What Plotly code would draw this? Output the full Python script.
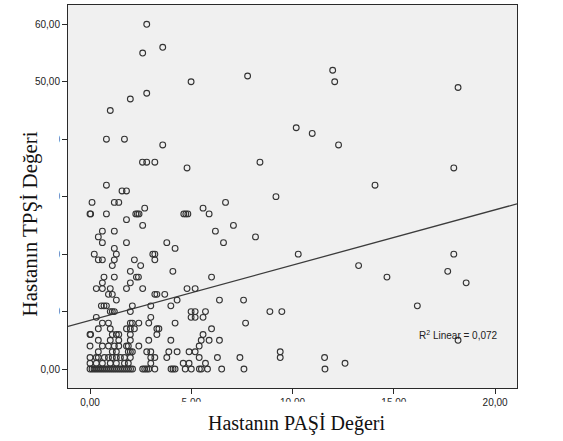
import plotly.graph_objects as go

# ---- data ----
pasi_values = [
    2.80, 3.59, 2.60, 11.98, 7.78, 4.99, 12.08, 18.17, 2.80, 1.99, 1.00,
    10.18, 10.97, 0.81, 1.70, 3.59, 12.27, 2.59, 2.80, 3.20, 8.39, 4.79, 17.96,
    0.81, 14.07, 1.58, 1.80, 9.18, 0.10, 1.20, 1.42, 6.69, 2.70, 5.58,
    0.00, 0.03, 0.81, 2.26, 2.34, 2.42, 4.63, 4.73, 4.83, 5.88,
    1.80, 2.60, 7.08, 0.61, 1.20, 6.19, 0.41, 8.17, 0.61, 1.80, 3.79, 6.59,
    1.20, 4.20, 0.21, 1.30, 3.10, 3.20, 10.28, 17.96,
    0.41, 0.61, 1.20, 2.19, 3.20, 1.10, 2.50, 13.26, 1.99, 4.09, 17.66,
    0.69, 1.20, 2.29, 2.39, 6.00, 14.66, 0.61, 1.99, 18.57,
    0.31, 0.61, 1.00, 1.80, 2.60, 4.79, 5.19,
    0.91, 1.10, 3.20, 3.30, 3.69, 1.30, 4.30, 6.39, 7.58,
    0.56, 0.69, 0.81, 2.09, 3.00, 3.99, 16.16,
    1.00, 1.10, 1.20, 1.99, 4.99, 5.19, 5.70, 8.88, 9.47,
    0.31, 3.00, 4.99, 5.19, 5.58,
    0.61, 0.91, 1.99, 2.09, 2.41, 2.90, 4.20, 7.68,
    0.41, 1.00, 1.80, 1.99, 2.19, 3.30, 3.40, 6.00,
    0.00, 0.03, 1.10, 1.30, 1.42, 1.99, 3.30, 5.58,
    0.41, 1.00, 1.42, 1.99, 2.90, 3.99, 5.49, 5.88, 6.39, 18.17,
    0.00, 0.61, 0.91, 1.20, 1.42, 1.80, 1.89, 2.41, 5.39,
    0.41, 1.10, 1.30, 1.89, 1.99, 2.09, 2.80, 3.00, 3.89, 4.30, 4.89, 5.19, 9.39,
    0.00, 0.31, 0.41, 0.71, 0.91, 1.10, 1.30, 1.50, 1.70, 1.99, 3.00, 3.20,
    3.79, 5.39, 6.29, 7.40, 9.39, 11.58,
    0.00, 0.31, 0.61, 1.00, 1.30, 1.70, 1.89, 3.00, 4.60, 4.89, 5.70, 12.59,
    0.0, 0.1, 0.2, 0.3, 0.4, 0.5, 0.6, 0.7, 0.8, 0.9, 1.0, 1.1, 1.2, 1.3,
    1.4, 1.5, 1.6, 1.7, 1.8, 1.9, 2.0, 2.1, 2.6, 2.7, 2.8, 2.9, 3.2, 4.0,
    4.1, 4.2, 4.7, 5.0, 5.4, 5.5, 5.8, 6.5, 7.6, 11.6,
]
tpsi_values = (
    [60, 56, 55, 52, 51, 50, 50, 49, 48, 47, 45,
     42, 41, 40, 40, 39, 39, 36, 36, 36, 36, 35, 35,
     32, 32, 31, 31, 30, 29, 29, 29, 29, 28, 28]
    + [27] * 10
    + [26, 25, 25, 24, 24, 24, 23, 23, 22, 22, 22, 22,
       21, 21, 20, 20, 20, 20, 20, 20]
    + [19] * 5 + [18] * 3 + [17] * 3
    + [16] * 6 + [15] * 3
    + [14] * 7
    + [13] * 5 + [12] * 4
    + [11] * 7
    + [10] * 9
    + [9] * 5
    + [8] * 8
    + [7] * 8
    + [6] * 8
    + [5] * 10
    + [4] * 9
    + [3] * 13
    + [2] * 18
    + [1] * 12
    + [0] * 38
)

# linear fit
fit_intercept = 8.47
fit_slope = 0.962
r2_text = "R<sup>2</sup> Linear = 0,072"

x_range = [-1.087, 21.08]
y_range = [-3.30, 63.36]
x_ticks = [0, 5, 10, 15, 20]
x_tick_labels = ["0,00", "5,00", "10,00", "15,00", "20,00"]
y_ticks = [0, 10, 20, 30, 40, 50, 60]
y_tick_labels = ["0,00", "10,00", "20,00", "30,00", "40,00", "50,00", "60,00"]

fit_x = x_range
fit_y = [fit_intercept + fit_slope * v for v in fit_x]

fig = go.Figure()
fig.add_trace(go.Scatter(
    x=fit_x, y=fit_y, mode="lines",
    line=dict(color="#3c3c3c", width=1.3),
    hoverinfo="skip", showlegend=False,
))
fig.add_trace(go.Scatter(
    x=pasi_values, y=tpsi_values, mode="markers",
    marker=dict(symbol="circle-open", size=5.8, color="#333333",
                line=dict(width=1.1, color="#333333")),
    showlegend=False,
))

axis_font = dict(family="Liberation Sans, Arial, sans-serif", size=10, color="#222222")

fig.update_xaxes(
    range=x_range, tickmode="array", tickvals=x_ticks, ticktext=x_tick_labels,
    showgrid=False, zeroline=False, showline=True, mirror=True,
    linecolor="#2a2a2a", linewidth=1, ticks="outside", ticklen=5,
    tickcolor="#2a2a2a", tickfont=axis_font,
)
fig.update_yaxes(
    range=y_range, tickmode="array", tickvals=y_ticks, ticktext=y_tick_labels,
    showgrid=False, zeroline=False, showline=True, mirror=True,
    linecolor="#2a2a2a", linewidth=1, ticks="outside", ticklen=5,
    tickcolor="#2a2a2a", tickfont=axis_font,
)

# white boxes behind the axis titles (they hide part of the tick labels)
fig.add_shape(type="rect", xref="paper", yref="paper",
              x0=0.2536, x1=0.7576, y0=-0.25, y1=-0.0357,
              fillcolor="white", line=dict(width=0), layer="above")
fig.add_shape(type="rect", xref="paper", yref="paper",
              x0=-0.16, x1=-0.0196, y0=0.165, y1=0.700,
              fillcolor="white", line=dict(width=0), layer="above")

title_font_family = "Liberation Serif, Times New Roman, serif"
fig.add_annotation(
    text="Hastanın PAŞİ Değeri", xref="paper", yref="paper",
    x=(296 - 68.3) / 448.4, y=(388.3 - 424) / 383.3,
    xanchor="center", yanchor="middle", showarrow=False,
    font=dict(family=title_font_family, size=20, color="#111111"),
)
fig.add_annotation(
    text="Hastanın TPŞİ Değeri", xref="paper", yref="paper",
    x=(30 - 68.3) / 448.4, y=(388.3 - 224) / 383.3,
    xanchor="center", yanchor="middle", textangle=-90, showarrow=False,
    font=dict(family=title_font_family, size=21, color="#111111"),
)
fig.add_annotation(
    text=r2_text, x=18.18, y=5.97, xref="x", yref="y",
    xanchor="center", yanchor="middle", showarrow=False,
    font=dict(family="Liberation Sans, Arial, sans-serif", size=10, color="#222222"),
)

fig.update_layout(
    width=563, height=441,
    margin=dict(l=68, r=46, t=5, b=53),
    plot_bgcolor="#f0f0f0", paper_bgcolor="white",
)

fig.write_html(
    "out.html",
    config={"displayModeBar": False},
    post_script="document.body.style.margin='0';document.body.style.overflow='hidden';",
)
